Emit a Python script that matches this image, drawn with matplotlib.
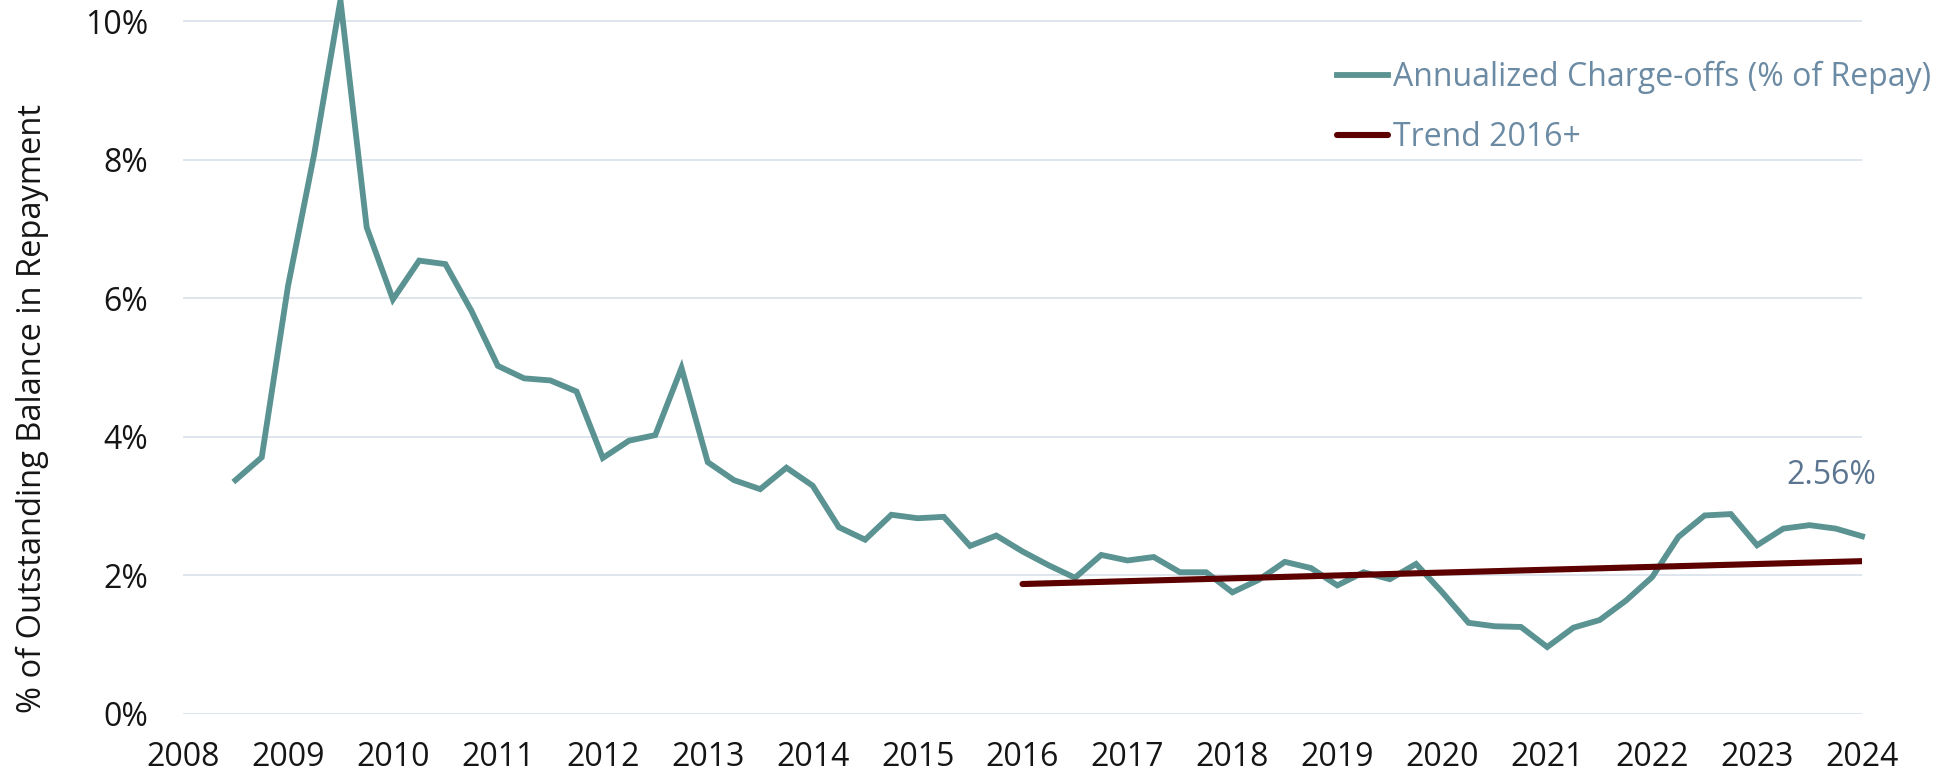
import matplotlib
matplotlib.use("Agg")
import matplotlib.pyplot as plt
from matplotlib.ticker import FuncFormatter

# quarterly charge-off rate, % of balance in repayment
quarters = [
    2008.50, 2008.75,
    2009.00, 2009.25, 2009.50, 2009.75,
    2010.00, 2010.25, 2010.50, 2010.75,
    2011.00, 2011.25, 2011.50, 2011.75,
    2012.00, 2012.25, 2012.50, 2012.75,
    2013.00, 2013.25, 2013.50, 2013.75,
    2014.00, 2014.25, 2014.50, 2014.75,
    2015.00, 2015.25, 2015.50, 2015.75,
    2016.00, 2016.25, 2016.50, 2016.75,
    2017.00, 2017.25, 2017.50, 2017.75,
    2018.00, 2018.25, 2018.50, 2018.75,
    2019.00, 2019.25, 2019.50, 2019.75,
    2020.00, 2020.25, 2020.50, 2020.75,
    2021.00, 2021.25, 2021.50, 2021.75,
    2022.00, 2022.25, 2022.50, 2022.75,
    2023.00, 2023.25, 2023.50, 2023.75,
    2024.00,
]
charge_offs = [
    3.37, 3.70,
    6.17, 8.08, 10.30, 7.02,
    5.98, 6.54, 6.49, 5.81,
    5.02, 4.84, 4.81, 4.65,
    3.69, 3.94, 4.02, 4.99,
    3.63, 3.37, 3.24, 3.55,
    3.29, 2.69, 2.51, 2.87,
    2.82, 2.84, 2.42, 2.57,
    2.34, 2.14, 1.96, 2.29,
    2.21, 2.26, 2.04, 2.04,
    1.75, 1.93, 2.19, 2.10,
    1.85, 2.04, 1.94, 2.16,
    1.75, 1.31, 1.26, 1.25,
    0.96, 1.24, 1.35, 1.63,
    1.97, 2.55, 2.86, 2.88,
    2.43, 2.67, 2.72, 2.67,
    2.56,
]

trend_x = [2016.0, 2024.0]
trend_y = [1.87, 2.20]

year_ticks = list(range(2008, 2025))
pct_ticks = [0, 2, 4, 6, 8, 10]

teal = "#5a9392"
maroon = "#5c0000"
grid_col = "#dfe5ec"
legend_col = "#6b8aa3"

plt.rcParams["font.family"] = ["Open Sans", "DejaVu Sans"]

fig = plt.figure(figsize=(19.39, 7.77), dpi=100)
ax = fig.add_axes([0.0944, 0.0817, 0.8659, 0.918])

ax.plot(quarters, charge_offs, color=teal, lw=4.2, solid_joinstyle="miter",
        label="Annualized Charge-offs (% of Repay)", clip_on=False, zorder=3)
ax.plot(trend_x, trend_y, color=maroon, lw=4.4, solid_capstyle="round",
        label="Trend 2016+", zorder=4)

ax.set_xlim(2008, 2024)
ax.set_ylim(0, 10.3)
ax.set_xticks(year_ticks)
ax.set_yticks(pct_ticks)
ax.yaxis.set_major_formatter(FuncFormatter(lambda v, p: f"{v:.0f}%"))
ax.tick_params(length=0, labelsize=23, colors="#151515")
ax.tick_params(axis="y", pad=25)
ax.tick_params(axis="x", pad=20)
ax.grid(axis="y", color=grid_col, lw=1.4)
ax.set_axisbelow(True)
for s in ax.spines.values():
    s.set_visible(False)

ax.set_ylabel("% of Outstanding Balance in Repayment", fontsize=23.5,
              color="#151515", labelpad=26, y=0.428)

# last value label
ax.annotate(f"{charge_offs[-1]:.2f}%", xy=(quarters[-1], charge_offs[-1]),
            xytext=(10, 44), textcoords="offset points", ha="right",
            va="center", fontsize=23, color="#5b7590")

leg = ax.legend(loc="upper left", bbox_to_anchor=(0.683, 0.938),
                bbox_transform=fig.transFigure, frameon=False, fontsize=23,
                handlelength=1.6, handletextpad=0.15, labelspacing=0.84,
                borderaxespad=0)
for t in leg.get_texts():
    t.set_color(legend_col)

fig.savefig("out.png", dpi=100)
